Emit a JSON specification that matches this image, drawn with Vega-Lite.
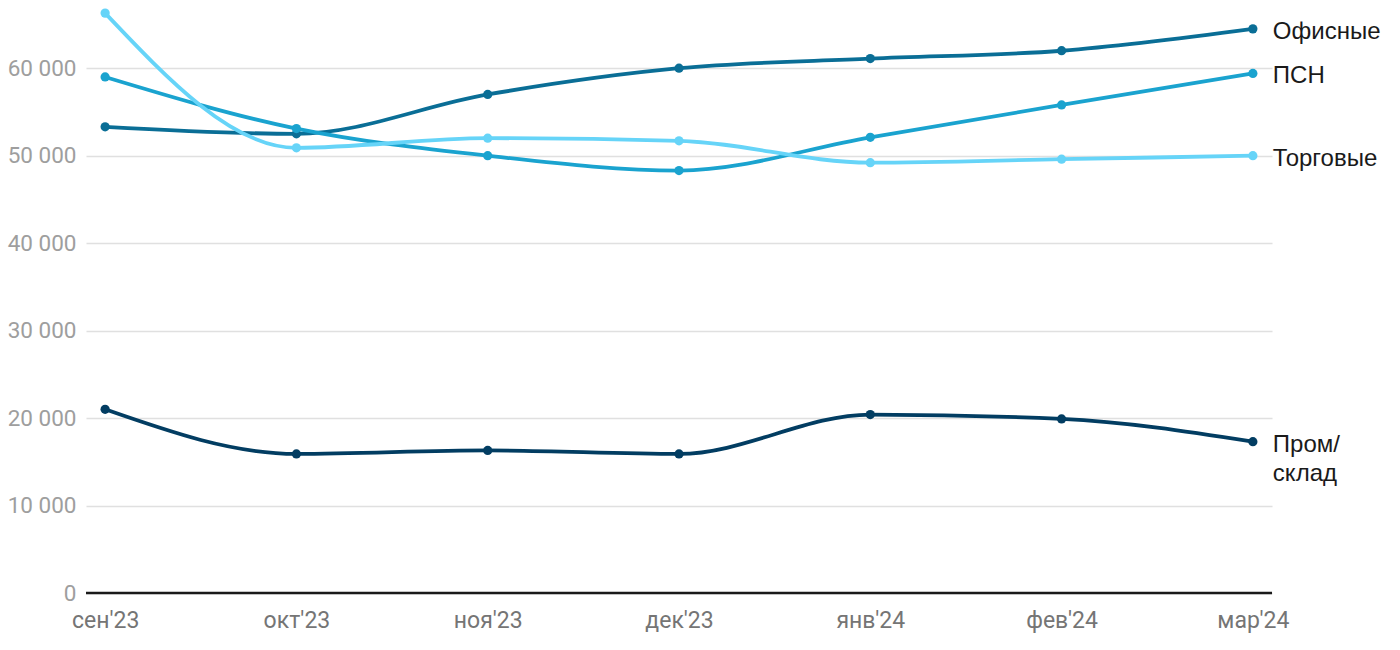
{
  "$schema": "https://vega.github.io/schema/vega-lite/v6.json",
  "autosize": {"type": "none"},
  "padding": {"left": 86, "top": 7, "right": 128, "bottom": 57},
  "width": 1186,
  "height": 586,
  "config": {
    "view": {"stroke": null},
    "locale": {"number": {"decimal": ",", "thousands": " ", "grouping": [3], "currency": ["", ""]}},
    "font": "Roboto"
  },
  "data": {
    "values": [
      {"m": "сен'23", "s": "Офисные", "v": 53300},
      {"m": "окт'23", "s": "Офисные", "v": 52500},
      {"m": "ноя'23", "s": "Офисные", "v": 57000},
      {"m": "дек'23", "s": "Офисные", "v": 60000},
      {"m": "янв'24", "s": "Офисные", "v": 61100},
      {"m": "фев'24", "s": "Офисные", "v": 62000},
      {"m": "мар'24", "s": "Офисные", "v": 64500, "label": "Офисные"},
      {"m": "сен'23", "s": "ПСН", "v": 59000},
      {"m": "окт'23", "s": "ПСН", "v": 53100},
      {"m": "ноя'23", "s": "ПСН", "v": 50000},
      {"m": "дек'23", "s": "ПСН", "v": 48300},
      {"m": "янв'24", "s": "ПСН", "v": 52100},
      {"m": "фев'24", "s": "ПСН", "v": 55800},
      {"m": "мар'24", "s": "ПСН", "v": 59400, "label": "ПСН"},
      {"m": "сен'23", "s": "Торговые", "v": 66300},
      {"m": "окт'23", "s": "Торговые", "v": 50900},
      {"m": "ноя'23", "s": "Торговые", "v": 52000},
      {"m": "дек'23", "s": "Торговые", "v": 51700},
      {"m": "янв'24", "s": "Торговые", "v": 49200},
      {"m": "фев'24", "s": "Торговые", "v": 49600},
      {"m": "мар'24", "s": "Торговые", "v": 50000, "label": "Торговые"},
      {"m": "сен'23", "s": "Пром/склад", "v": 21000},
      {"m": "окт'23", "s": "Пром/склад", "v": 15900},
      {"m": "ноя'23", "s": "Пром/склад", "v": 16300},
      {"m": "дек'23", "s": "Пром/склад", "v": 15900},
      {"m": "янв'24", "s": "Пром/склад", "v": 20400},
      {"m": "фев'24", "s": "Пром/склад", "v": 19900},
      {"m": "мар'24", "s": "Пром/склад", "v": 17300, "label": "Пром/\nсклад"}
    ]
  },
  "encoding": {
    "x": {
      "field": "m", "type": "ordinal", "sort": null,
      "scale": {"type": "point", "padding": 0.1},
      "axis": {"title": null, "labelAngle": 0, "domain": false, "ticks": false, "grid": false,
               "labelFont": "Roboto", "labelFontSize": 23, "labelColor": "#757575", "labelPadding": 16}
    },
    "y": {
      "field": "v", "type": "quantitative",
      "scale": {"domain": [0, 67000], "nice": false},
      "axis": {"title": null, "values": [0, 10000, 20000, 30000, 40000, 50000, 60000], "format": ",d",
               "domain": false, "ticks": false, "gridColor": "#e0e0e0", "gridWidth": 1.5,
               "labelFont": "Roboto", "labelFontSize": 22.5, "labelColor": "#9e9e9e", "labelPadding": 10}
    },
    "color": {
      "field": "s", "type": "nominal", "legend": null,
      "scale": {"domain": ["Офисные", "ПСН", "Торговые", "Пром/склад"],
                "range": ["#0a6e96", "#1aa3cf", "#66d4f8", "#023d62"]}
    }
  },
  "layer": [
    {"mark": {"type": "rule", "color": "#1a1a1a", "strokeWidth": 2.5},
     "data": {"values": [{"z": 0}]},
     "encoding": {"y": {"field": "z", "type": "quantitative"}, "x": null, "color": null}},
    {"mark": {"type": "line", "interpolate": "monotone", "strokeWidth": 3.8}},
    {"mark": {"type": "point", "filled": true, "size": 85, "opacity": 1}},
    {"transform": [{"filter": "isValid(datum.label)"}],
     "mark": {"type": "text", "align": "left", "baseline": "top", "dx": 20, "dy": -9,
              "font": "Liberation Sans", "fontSize": 24, "color": "#1a1a1a", "lineBreak": "\n", "lineHeight": 29},
     "encoding": {"text": {"field": "label"}, "color": null}}
  ]
}
